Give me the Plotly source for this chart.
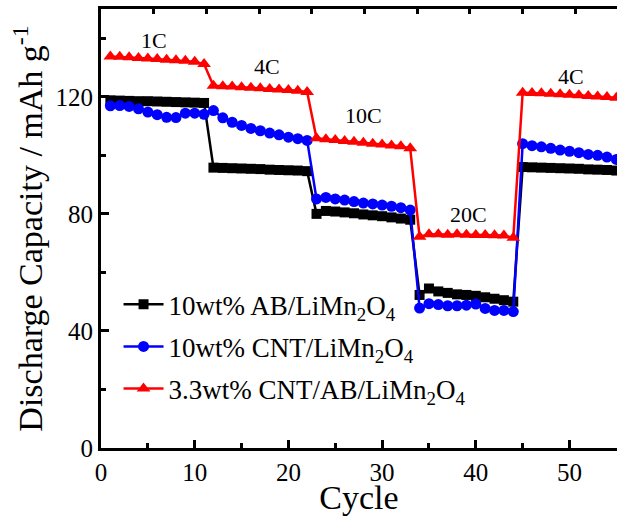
import plotly.graph_objects as go

cycles = list(range(1, 56))

ab_lmo = [118.8, 118.7, 118.6, 118.5, 118.5, 118.4, 118.3, 118.2, 118.1, 118.0, 117.9,
          95.8, 95.7, 95.6, 95.5, 95.4, 95.3, 95.1, 95.0, 94.9, 94.8, 94.6,
          80.0, 81.0, 80.8, 80.5, 80.2, 79.8, 79.5, 79.2, 78.8, 78.4, 78.0,
          52.3, 54.5, 53.5, 53.0, 52.5, 52.3, 52.0, 51.5, 51.0, 50.5, 50.0,
          96.0, 95.9, 95.8, 95.7, 95.6, 95.5, 95.4, 95.2, 95.1, 95.0, 94.8]

cnt_lmo = [116.9, 117.0, 116.7, 115.9, 114.8, 113.9, 113.0, 112.9, 114.4, 114.4, 114.0,
           115.3, 112.8, 111.3, 110.2, 109.2, 108.4, 107.6, 107.0, 106.2, 105.7, 105.1,
           85.1, 85.6, 85.1, 84.7, 84.2, 83.7, 83.4, 83.0, 82.6, 82.1, 81.3,
           47.8, 49.3, 49.0, 48.6, 48.6, 48.8, 49.2, 47.7, 47.0, 47.0, 46.6,
           104.0, 103.3, 102.9, 102.4, 101.8, 101.4, 100.9, 100.3, 100.0, 99.4, 98.6]

cnt_ab_lmo = [133.8, 133.7, 133.5, 133.3, 133.1, 132.9, 132.7, 132.5, 132.3, 132.0, 131.2,
              123.8, 123.6, 123.5, 123.3, 123.1, 122.9, 122.7, 122.5, 122.3, 122.1, 121.6,
              105.8, 105.5, 105.2, 104.9, 104.6, 104.3, 104.0, 103.7, 103.4, 103.1, 102.4,
              72.2, 73.0, 73.0, 72.9, 73.0, 72.9, 72.8, 72.8, 72.7, 72.6, 71.8,
              121.4, 121.3, 121.2, 121.0, 120.9, 120.7, 120.5, 120.3, 120.1, 119.9, 119.7]

series_names = ["10wt% AB/LiMn<sub>2</sub>O<sub>4</sub>",
                "10wt% CNT/LiMn<sub>2</sub>O<sub>4</sub>",
                "3.3wt% CNT/AB/LiMn<sub>2</sub>O<sub>4</sub>"]

rate_labels = ["1C", "4C", "10C", "20C", "4C"]
rate_label_x = [5.7, 17.7, 28.0, 39.2, 50.2]
rate_label_y = [139.2, 130.5, 113.6, 79.8, 127.1]

FONT = "Liberation Serif"

fig = go.Figure()
styles = [("black", "square", 10), ("#0000ff", "circle", 11), ("#ff0000", "triangle-up", 12)]
for i, (ys, name, (col, sym, sz)) in enumerate(zip([ab_lmo, cnt_lmo, cnt_ab_lmo], series_names, styles)):
    fig.add_trace(go.Scatter(
        x=cycles, y=ys, name=name, mode="lines+markers",
        line=dict(color=col, width=2.5),
        marker=dict(symbol=sym, size=sz, color=col, line=dict(width=0)),
        legendgroup=f"g{i}",
    ))

# helper trace so the top (mirror) axis is drawn
fig.add_trace(go.Scatter(x=[None], y=[None], xaxis="x2", showlegend=False,
                         hoverinfo="skip", mode="lines"))

for t, x, y in zip(rate_labels, rate_label_x, rate_label_y):
    fig.add_annotation(x=x, y=y, text=t, showarrow=False,
                       font=dict(family=FONT, size=22, color="black"))

fig.update_layout(
    width=617, height=516,
    margin=dict(l=101, r=0, t=9, b=65),
    paper_bgcolor="white", plot_bgcolor="white",
    font=dict(family=FONT, color="black"),
    showlegend=True,
    legend=dict(x=0.034, y=0.382, xanchor="left", yanchor="top",
                bgcolor="rgba(0,0,0,0)", font=dict(family=FONT, size=27),
                tracegroupgap=4, itemwidth=40),
    xaxis=dict(range=[0, 55.07], dtick=10, tick0=0, showgrid=False, zeroline=False,
               showline=True, linecolor="black", linewidth=3,
               ticks="inside", ticklen=8, tickwidth=2.5, tickcolor="black",
               minor=dict(dtick=5, ticks="inside", ticklen=5, tickwidth=2.5, tickcolor="black"),
               tickfont=dict(family=FONT, size=25),
               title=dict(text="Cycle", font=dict(family=FONT, size=34), standoff=6)),
    xaxis2=dict(overlaying="x", side="top", range=[0, 48.96], dtick=5, tick0=0,
                showgrid=False, zeroline=False, showline=True, linecolor="black", linewidth=3,
                ticks="inside", ticklen=5, tickwidth=2.5, tickcolor="black",
                showticklabels=False),
    yaxis=dict(range=[0, 150], dtick=40, tick0=0, showgrid=False, zeroline=False,
               showline=True, linecolor="black", linewidth=3,
               ticks="inside", ticklen=8, tickwidth=2.5, tickcolor="black",
               minor=dict(dtick=20, ticks="inside", ticklen=5, tickwidth=2.5, tickcolor="black"),
               tickfont=dict(family=FONT, size=25),
               title=dict(text="Discharge Capacity / mAh g<sup>-1</sup>",
                          font=dict(family=FONT, size=34), standoff=3)),
)

fig.write_html("out.html")
